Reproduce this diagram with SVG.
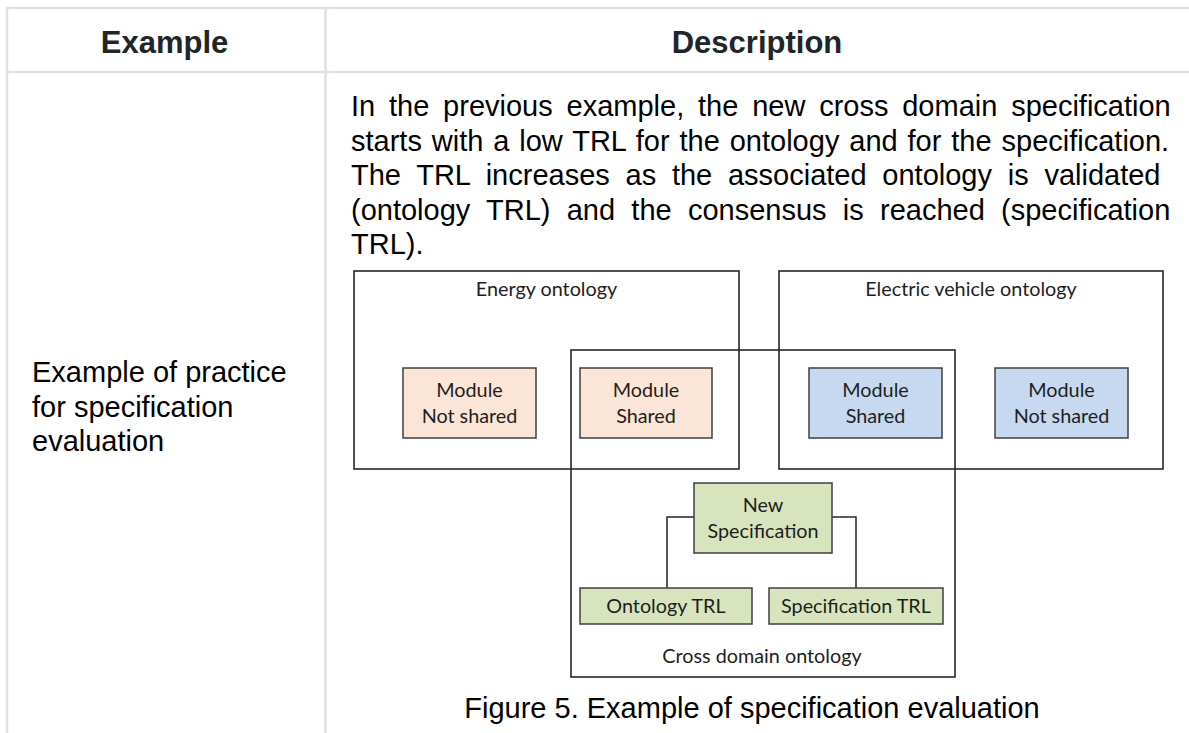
<svg xmlns="http://www.w3.org/2000/svg" width="1189" height="733" viewBox="0 0 1189 733">
<style>
.grid{stroke:#dee2e6;stroke-width:2.5;fill:none}
.hdr{font-family:"Liberation Sans",Arial,sans-serif;font-weight:bold;font-size:31px;fill:#212529;text-anchor:middle}
.body{font-family:"Liberation Sans",Arial,sans-serif;font-size:29px;fill:#000}
.cont{fill:none;stroke:#262626;stroke-width:1.6}
.lbl{font-family:Lato,"Open Sans",sans-serif;font-size:19.8px;fill:#1e1e1e;text-anchor:middle}
.peach{fill:#fbe5d6;stroke:#3f3f3f;stroke-width:1.5}
.blue{fill:#c6d9f1;stroke:#3f3f3f;stroke-width:1.5}
.green{fill:#d7e4bd;stroke:#3f3f3f;stroke-width:1.5}
.conn{fill:none;stroke:#262626;stroke-width:1.5}
</style>
<rect width="1189" height="733" fill="#fff"/>
<g id="table">
<line class="grid" x1="6" y1="8" x2="1189" y2="8"/>
<line class="grid" x1="7" y1="7" x2="7" y2="733"/>
<line class="grid" x1="325.5" y1="8" x2="325.5" y2="733"/>
<line class="grid" x1="6" y1="72" x2="1189" y2="72"/>
<text class="hdr" x="164.5" y="53">Example</text>
<text class="hdr" x="757" y="53">Description</text>
<text class="body" x="32" y="382">Example of practice</text>
<text class="body" x="32" y="416.5">for specification</text>
<text class="body" x="32" y="451">evaluation</text>
<text class="body" x="351" y="116" word-spacing="5.75">In the previous example, the new cross domain specification</text>
<text class="body" x="351" y="150.5" word-spacing="1.84">starts with a low TRL for the ontology and for the specification.</text>
<text class="body" x="351" y="185" word-spacing="7.69">The TRL increases as the associated ontology is validated</text>
<text class="body" x="351" y="219.5" word-spacing="8.19">(ontology TRL) and the consensus is reached (specification</text>
<text class="body" x="351" y="254">TRL).</text>
<text class="body" x="752" y="718" text-anchor="middle">Figure 5. Example of specification evaluation</text>
</g>
<g id="energy-ontology">
<rect class="cont" x="354" y="271" width="385" height="198"/>
<text class="lbl" x="546.5" y="296">Energy ontology</text>
</g>
<g id="ev-ontology">
<rect class="cont" x="779" y="271" width="384" height="198"/>
<text class="lbl" x="971" y="296">Electric vehicle ontology</text>
</g>
<g id="cross-domain-ontology">
<rect class="cont" x="571" y="350" width="384" height="327"/>
<text class="lbl" x="762" y="663">Cross domain ontology</text>
</g>
<g id="energy-module-not-shared">
<rect class="peach" x="403" y="368" width="133" height="70"/>
<text class="lbl" x="469.5" y="397">Module</text>
<text class="lbl" x="469.5" y="423">Not shared</text>
</g>
<g id="energy-module-shared">
<rect class="peach" x="580" y="368" width="132" height="70"/>
<text class="lbl" x="646" y="397">Module</text>
<text class="lbl" x="646" y="423">Shared</text>
</g>
<g id="ev-module-shared">
<rect class="blue" x="809" y="368" width="133" height="70"/>
<text class="lbl" x="875.5" y="397">Module</text>
<text class="lbl" x="875.5" y="423">Shared</text>
</g>
<g id="ev-module-not-shared">
<rect class="blue" x="995" y="368" width="133" height="70"/>
<text class="lbl" x="1061.5" y="397">Module</text>
<text class="lbl" x="1061.5" y="423">Not shared</text>
</g>
<g id="connectors">
<path class="conn" d="M694 517 H667 V588"/>
<path class="conn" d="M832 517 H856 V588"/>
</g>
<g id="new-specification">
<rect class="green" x="694" y="483" width="138" height="70"/>
<text class="lbl" x="763" y="512">New</text>
<text class="lbl" x="763" y="538">Specification</text>
</g>
<g id="ontology-trl">
<rect class="green" x="580" y="588" width="172" height="36"/>
<text class="lbl" x="666" y="613">Ontology TRL</text>
</g>
<g id="specification-trl">
<rect class="green" x="769" y="588" width="174" height="36"/>
<text class="lbl" x="856" y="613">Specification TRL</text>
</g>
</svg>
